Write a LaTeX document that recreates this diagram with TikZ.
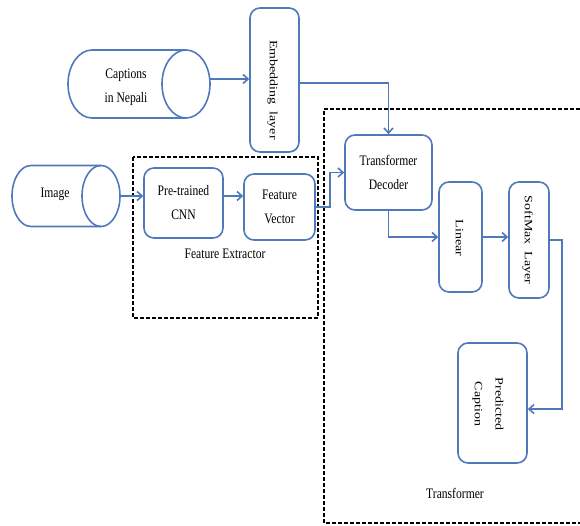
\documentclass[tikz,border=0pt]{standalone}
\usepackage{fontspec}
\setmainfont{Liberation Serif}
\newfontfamily\narrowserif[FakeStretch=0.8]{Liberation Serif}
\usetikzlibrary{arrows.meta}
\definecolor{bl}{RGB}{79,120,189}
\newcommand{\vtext}[1]{\scalebox{1}[0.8]{\begin{tabular}{@{}c@{}}#1\end{tabular}}}
\tikzset{
  x=1pt, y=-1pt,
  box/.style={draw=bl, line width=1.6pt, rounded corners=10pt, inner sep=0pt, align=center},
  arr/.style={draw=bl, line width=1.6pt, -{Straight Barb[length=5pt,width=9pt]}},
  ln/.style={draw=bl, line width=1.6pt},
  frame/.style={draw=black, line width=1.5pt, dash pattern=on 4pt off 2pt},
  lbl/.style={inner sep=0pt, align=center},
  vlbl/.style={inner sep=0pt, rotate=-90, font=\fontsize{14}{26}\selectfont\rmfamily},
  cyl/.style={draw=none, inner sep=0pt}
}
\begin{document}
\begin{tikzpicture}[font=\narrowserif\fontsize{14.5}{24}\selectfont]
\useasboundingbox (0,0) rectangle (580,525);
% dashed frames
\draw[frame] (133,157) rectangle (318,318);
\draw[frame] (580,109) -- (324,109) -- (324,523) -- (580,523);
% cylinders
\node[cyl, minimum width=142pt, minimum height=68pt] (cap) at (139,84) {};
\draw[ln] (186,50) -- (92,50) arc[start angle=90, end angle=270, x radius=24pt, y radius=34pt] -- (186,118);
\draw[ln] (186,84) ellipse[x radius=24pt, y radius=34pt];
\node[lbl] at (126,87) {Captions\\in Nepali};
\node[cyl, minimum width=108pt, minimum height=61pt] (img) at (66,196) {};
\draw[ln] (101,165.5) -- (31,165.5) arc[start angle=90, end angle=270, x radius=19pt, y radius=30.5pt] -- (101,226.5);
\draw[ln] (101,196) ellipse[x radius=19pt, y radius=30.5pt];
\node[lbl] at (55,194) {Image};
% boxes
\node[box, minimum width=49pt, minimum height=144pt] (emb) at (274.5,80) {};
\node[vlbl] at (274,90) {\vtext{Embedding\ \ layer}};
\node[box, minimum width=87pt, minimum height=75pt] (dec) at (388.5,172.5) {Transformer\\Decoder};
\node[box, minimum width=79pt, minimum height=70pt] (cnn) at (183.5,203) {Pre-trained\\CNN};
\node[box, minimum width=71pt, minimum height=66pt] (fv) at (279.5,207) {Feature\\Vector};
\node[box, minimum width=43pt, minimum height=110pt] (lin) at (460.5,237) {};
\node[vlbl] at (460,238) {\vtext{Linear}};
\node[box, minimum width=40pt, minimum height=116pt] (sm) at (529,240) {};
\node[vlbl] at (529,240) {\vtext{SoftMax\ \ Layer}};
\node[box, minimum width=69pt, minimum height=120pt] (pc) at (492.5,403) {};
\node[vlbl] at (489.5,404) {\vtext{Predicted\\Caption}};
% labels
\node[lbl] at (225,254) {Feature Extractor};
\node[lbl] at (455,493) {Transformer};
% connectors
\draw[arr] ([yshift=5pt]cap.east) -- ([yshift=5pt]cap.east -| emb.west);
\draw[arr] ([yshift=-3pt]emb.east) -| (dec.north);
\draw[arr] (img.east) -- (img.east -| cnn.west);
\draw[arr] (img.east -| cnn.east) -- (img.east -| fv.west);
\draw[arr] (fv.east) -- ++(14,0) |- (dec.west);
\draw[arr] (dec.south) |- (lin.west);
\draw[arr] (lin.east) -- (lin.east -| sm.west);
\draw[arr] (sm.east) -- ++(12,0) |- ([yshift=-6pt]pc.east);
\end{tikzpicture}
\end{document}
